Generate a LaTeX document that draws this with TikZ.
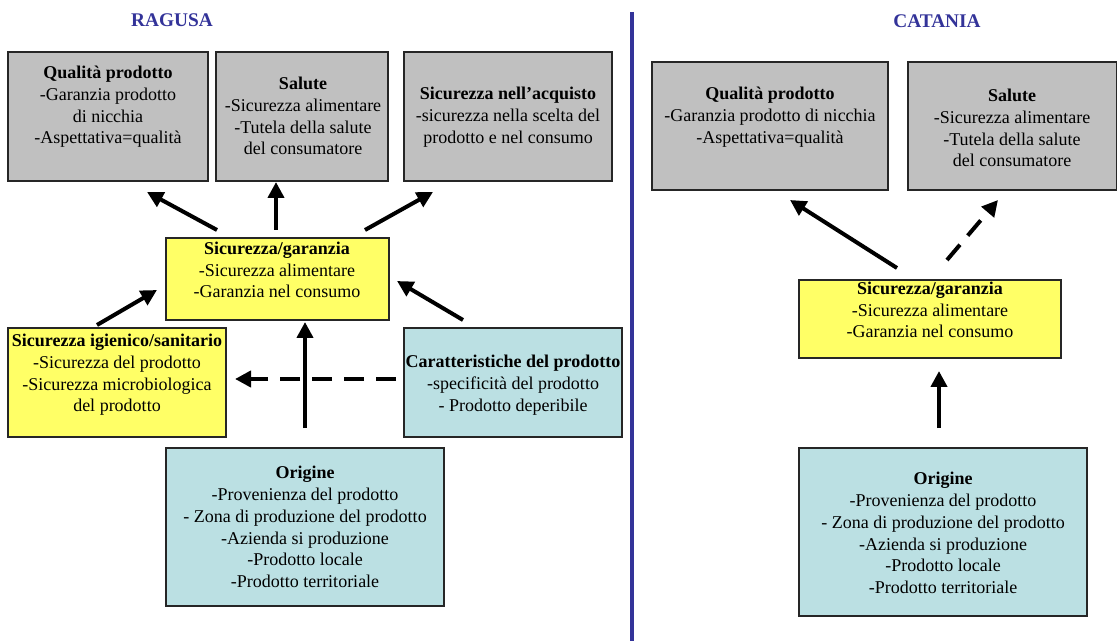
\documentclass[tikz,border=0pt]{standalone}
\usepackage{fontspec}
\setmainfont{Liberation Serif}
\usetikzlibrary{arrows.meta,fit}
\definecolor{boxgray}{HTML}{C0C0C0}
\definecolor{boxyellow}{HTML}{FFFF66}
\definecolor{boxblue}{HTML}{BBE0E3}
\definecolor{titleblue}{HTML}{333399}
\tikzset{
  box/.style={draw=black!85, line width=0.8pt, inner sep=0pt},
  graybox/.style={box, fill=boxgray},
  yellowbox/.style={box, fill=boxyellow},
  bluebox/.style={box, fill=boxblue},
  txt/.style={align=center, inner sep=0pt, font=\fontsize{13.5}{16.3}\selectfont},
  title/.style={inner sep=0pt, text=titleblue, font=\fontsize{14.5}{16}\selectfont\bfseries},
  flow/.style={line width=3pt, -{Triangle[length=12pt,width=12pt]}},
  dflow/.style={flow, dash pattern=on 15pt off 9pt},
}
\begin{document}
\begin{tikzpicture}[x=0.75pt,y=-0.75pt]
\useasboundingbox (0,0) rectangle (1117,641);

% titles and divider
\node[title] (tr) at (172,20) {RAGUSA};
\node[title] (tc) at (937,21) {CATANIA};
\coordinate (divtop) at (632,12);
\coordinate (divbot) at (632,641);
\draw[titleblue, line width=2.3pt] (divtop) -- (divbot);

% ---------- Ragusa ----------
\node[graybox, fit={(8,52) (208,181)}] (rq) {};
\node[txt] (rqt) at (108,107) {\textbf{Qualità prodotto}\\-Garanzia prodotto\\di nicchia\\-Aspettativa=qualità};

\node[graybox, fit={(216,52) (388,181)}] (rs) {};
\node[txt] (rst) at (303,116) {\textbf{Salute}\\-Sicurezza alimentare\\-Tutela della salute\\del consumatore};

\node[graybox, fit={(404,52) (612,181)}] (ra) {};
\node[txt] (rat) at (508,117) {\textbf{Sicurezza nell’acquisto}\\-sicurezza nella scelta del\\prodotto e nel consumo};

\node[yellowbox, fit={(166,238) (389,320)}] (rg) {};
\node[txt] (rgt) at (277,270) {\textbf{Sicurezza/garanzia}\\-Sicurezza alimentare\\-Garanzia nel consumo};

\node[yellowbox, fit={(8,328) (226,437)}] (ri) {};
\node[txt] (rit) at (117,375) {\textbf{Sicurezza igienico/sanitario}\\-Sicurezza del prodotto\\-Sicurezza microbiologica\\del prodotto};

\node[bluebox, fit={(404,328) (622,437)}] (rc) {};
\node[txt] (rct) at (513,385) {\textbf{Caratteristiche del prodotto}\\-specificità del prodotto\\- Prodotto deperibile};

\node[bluebox, fit={(166,448) (444,606)}] (ro) {};
\node[txt] (rot) at (305,527) {\textbf{Origine}\\-Provenienza del prodotto\\- Zona di produzione del prodotto\\-Azienda si produzione\\-Prodotto locale\\-Prodotto territoriale};

% Ragusa connectors
\coordinate (r1a) at (217,230); \coordinate (r1b) at (147,192);
\coordinate (r2a) at (276,230); \coordinate (r2b) at (276,182);
\coordinate (r3a) at (365,230); \coordinate (r3b) at (433,192);
\coordinate (r4a) at (97,325);  \coordinate (r4b) at (157,290);
\coordinate (r5a) at (463,320); \coordinate (r5b) at (397,281);
\coordinate (r6a) at (305,428); \coordinate (r6b) at (305,322);
\coordinate (r7a) at (396,379); \coordinate (r7b) at (235,379);
\draw[flow] (r1a) -- (r1b);
\draw[flow] (r2a) -- (r2b);
\draw[flow] (r3a) -- (r3b);
\draw[flow] (r4a) -- (r4b);
\draw[flow] (r5a) -- (r5b);
\draw[flow] (r6a) -- (r6b);
\draw[dflow] (r7a) -- (r7b);

% ---------- Catania ----------
\node[graybox, fit={(652,62) (888,190)}] (cq) {};
\node[txt] (cqt) at (770,117) {\textbf{Qualità prodotto}\\-Garanzia prodotto di nicchia\\-Aspettativa=qualità};

\node[graybox, fit={(908,62) (1116.5,190)}] (cs) {};
\node[txt] (cst) at (1012,128) {\textbf{Salute}\\-Sicurezza alimentare\\-Tutela della salute\\del consumatore};

\node[yellowbox, fit={(799,280) (1061,358)}] (cg) {};
\node[txt] (cgt) at (930,310) {\textbf{Sicurezza/garanzia}\\-Sicurezza alimentare\\-Garanzia nel consumo};

\node[bluebox, fit={(799,448) (1087,616)}] (co) {};
\node[txt] (cot) at (943,533) {\textbf{Origine}\\-Provenienza del prodotto\\- Zona di produzione del prodotto\\-Azienda si produzione\\-Prodotto locale\\-Prodotto territoriale};

% Catania connectors
\coordinate (c1a) at (897,268); \coordinate (c1b) at (790,200);
\coordinate (c2a) at (947,260); \coordinate (c2b) at (998,200);
\coordinate (c3a) at (939,428); \coordinate (c3b) at (939,371);
\draw[flow] (c1a) -- (c1b);
\draw[dflow] (c2a) -- (c2b);
\draw[flow] (c3a) -- (c3b);
\end{tikzpicture}
\end{document}
